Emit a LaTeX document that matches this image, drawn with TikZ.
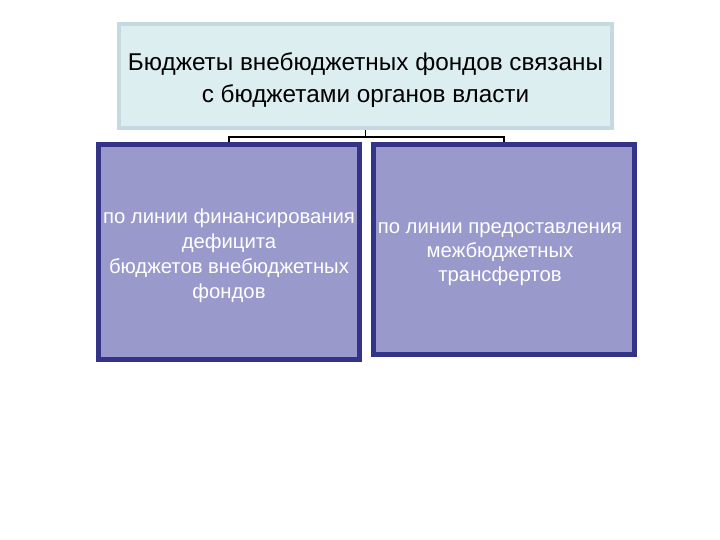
\documentclass[tikz,border=0pt]{standalone}
\usepackage{fontspec}
\setmainfont{Liberation Sans}
\definecolor{topfill}{HTML}{DDEEF0}
\definecolor{topdraw}{HTML}{C5DAE0}
\definecolor{boxfill}{HTML}{9999CC}
\definecolor{boxdraw}{HTML}{333388}
\begin{document}
\begin{tikzpicture}[x=1pt,y=-1pt,
  topbox/.style={draw=topdraw,fill=topfill,line width=4pt,minimum width=493pt,minimum height=104pt,inner sep=0pt,align=center},
  subbox/.style={draw=boxdraw,fill=boxfill,line width=5pt,minimum width=261pt,inner sep=0pt},
  subtext/.style={text=white,align=center,inner sep=0pt},
  conn/.style={draw=black,line width=1.6pt}]
\useasboundingbox (0,0) rectangle (720,540);
\fill[white] (0,0) rectangle (720,540);
\node[topbox] (top) at (365.5,76) {};
\node[align=center,inner sep=0pt,font=\fontsize{24.3}{32}\selectfont] (tt) at (365.5,80) {Бюджеты внебюджетных фондов связаны\\с бюджетами органов власти};
\node[subbox,minimum height=215pt] (left) at (229,252) {};
\node[subbox,minimum height=210pt] (right) at (504,249.5) {};
\node[subtext,font=\fontsize{20.3}{25}\selectfont] (lt) at (229,256) {по линии финансирования\\дефицита\\ бюджетов внебюджетных\\фондов};
\node[subtext,font=\fontsize{20.3}{24}\selectfont] (rt) at (500,254) {по линии предоставления\\межбюджетных\\трансфертов};
\coordinate (stem) at (365.5,137);
\draw[conn] (top.south) -- (stem);
\draw[conn] (stem) -| (left.north);
\draw[conn] (stem) -| (right.north);
\end{tikzpicture}
\end{document}
